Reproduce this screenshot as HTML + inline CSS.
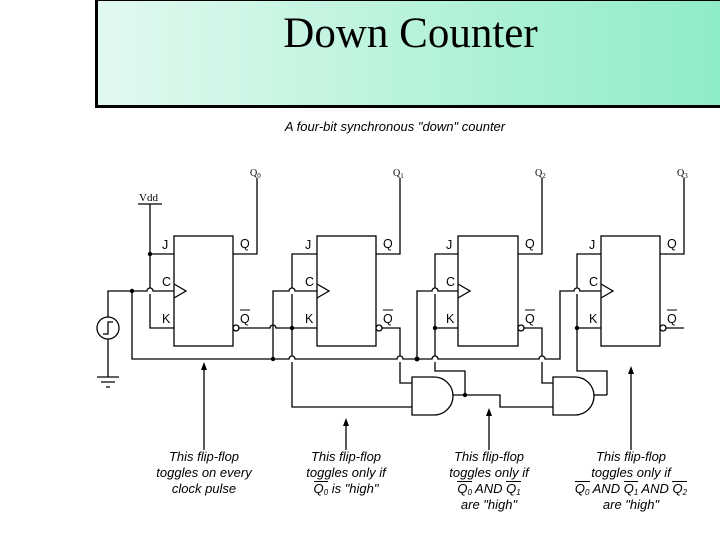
<!DOCTYPE html>
<html><head><meta charset="utf-8"><style>
html,body{margin:0;padding:0;background:#fff;}
body{width:720px;height:540px;position:relative;overflow:hidden;}
.hdr{position:absolute;left:95px;top:-2px;width:630px;height:110px;border:3px solid #000;background:linear-gradient(to right,#e2f9ef,#8eecc8);box-sizing:border-box;}
.hdr div{position:absolute;left:0;top:8px;width:625px;text-align:center;font:43px "Liberation Serif",serif;color:#000;}
svg{position:absolute;left:0;top:0;}
.lbl{position:absolute;top:449px;width:160px;margin-left:-80px;text-align:center;font:italic 13px/16px "Liberation Sans",sans-serif;color:#000;}
.ov{display:inline-block;border-top:1px solid #000;line-height:13px;}
.s{font-size:8px;position:relative;top:2px;}
</style></head><body>
<div class="hdr"><div>Down Counter</div></div>
<svg width="720" height="540" viewBox="0 0 720 540" font-family="Liberation Sans, sans-serif">
<text x="395" y="131" font-size="13" font-style="italic" text-anchor="middle">A four-bit synchronous "down" counter</text>
<g fill="none" stroke="#000" stroke-width="1.3">
<rect x="174" y="236" width="59" height="110"/>
<rect x="317" y="236" width="59" height="110"/>
<rect x="458" y="236" width="60" height="110"/>
<rect x="601" y="236" width="59" height="110"/>
<path d="M174 284 L186 291 L174 298 M317 284 L329 291 L317 298 M458 284 L470 291 L458 298 M601 284 L613 291 L601 298"/>
<path d="M138 204 H162 M150 204 V288 M150 294 V328 H174 M150 254 H174"/>
<path d="M233 254 H257 V178 M376 254 H400 V178 M518 254 H542 V178 M660 254 H684 V178"/>
<circle cx="108" cy="328" r="11"/>
<path d="M103 334 H108 V322 H113"/>
<path d="M108 317 V291 H147 A3 3 0 0 1 153 291 H174"/>
<path d="M108 339 V377 M97 377 H119 M101 382 H115 M106 387 H110"/>
<path d="M132 291 V359 H289 A3 3 0 0 1 295 359 H397 A3 3 0 0 1 403 359 H432 A3 3 0 0 1 438 359 H539 A3 3 0 0 1 545 359 H560 V291 H574 A3 3 0 0 1 580 291 H601"/>
<path d="M273 359 V291 H289 A3 3 0 0 1 295 291 H317"/>
<path d="M417 359 V291 H432 A3 3 0 0 1 438 291 H458"/>
<path d="M239 328 H270 A3 3 0 0 1 276 328 H317"/>
<path d="M317 254 H292 V288 M292 294 V356 M292 362 V407 H412"/>
<path d="M382 328 H400 V356 M400 362 V383 H412"/>
<path d="M458 254 H435 V288 M435 294 V356 M435 362 V371 H465 V395 M435 328 H458"/>
<path d="M412 377 H434 A19 19 0 0 1 434 415 H412 Z"/>
<path d="M453 395 H500 V407 H553"/>
<path d="M524 328 H542 V356 M542 362 V383 H553"/>
<path d="M601 254 H577 V288 M577 294 V371 H607 V395 M577 328 H601"/>
<path d="M553 377 H575 A19 19 0 0 1 575 415 H553 Z"/>
<path d="M594 395 H607"/>
<path d="M666 328 H684"/>
<circle cx="236" cy="328" r="3" fill="#fff"/>
<circle cx="379" cy="328" r="3" fill="#fff"/>
<circle cx="521" cy="328" r="3" fill="#fff"/>
<circle cx="663" cy="328" r="3" fill="#fff"/>
<path d="M204 450 V368 M346 450 V424 M489 450 V414 M631 450 V372"/>
</g>
<g fill="#000">
<circle cx="150" cy="254" r="2.2"/><circle cx="132" cy="291" r="2.2"/>
<circle cx="273" cy="359" r="2.2"/><circle cx="292" cy="328" r="2.2"/>
<circle cx="417" cy="359" r="2.5"/><circle cx="435" cy="328" r="2.2"/>
<circle cx="465" cy="395" r="2.2"/><circle cx="577" cy="328" r="2.2"/>
<path d="M204 362 L201 370 H207 Z M346 418 L343 426 H349 Z M489 408 L486 416 H492 Z M631 366 L628 374 H634 Z"/>
</g>
<g font-size="12.5">
<text x="162" y="249">J</text><text x="162" y="286">C</text><text x="162" y="323">K</text>
<text x="305" y="249">J</text><text x="305" y="286">C</text><text x="305" y="323">K</text>
<text x="446" y="249">J</text><text x="446" y="286">C</text><text x="446" y="323">K</text>
<text x="589" y="249">J</text><text x="589" y="286">C</text><text x="589" y="323">K</text>
<text x="240" y="248">Q</text><text x="383" y="248">Q</text><text x="525" y="248">Q</text><text x="667" y="248">Q</text>
<text x="240" y="323">Q</text><text x="383" y="323">Q</text><text x="525" y="323">Q</text><text x="667" y="323">Q</text>
</g>
<path d="M240 310 H250 M383 310 H393 M525 310 H535 M667 310 H677" stroke="#000" stroke-width="1"/>
<g font-size="10" font-family="Liberation Serif, serif">
<text x="250" y="176">Q<tspan font-size="7" dy="2">0</tspan></text>
<text x="393" y="176">Q<tspan font-size="7" dy="2">1</tspan></text>
<text x="535" y="176">Q<tspan font-size="7" dy="2">2</tspan></text>
<text x="677" y="176">Q<tspan font-size="7" dy="2">3</tspan></text>
<text x="139" y="201" font-size="11">Vdd</text>
</g>
</svg>
<div class="lbl" style="left:204px">This flip-flop<br>toggles on every<br>clock pulse</div>
<div class="lbl" style="left:346px">This flip-flop<br>toggles only if<br><span class="ov">Q<span class="s">0</span></span> is "high"</div>
<div class="lbl" style="left:489px">This flip-flop<br>toggles only if<br><span class="ov">Q<span class="s">0</span></span> AND <span class="ov">Q<span class="s">1</span></span><br>are "high"</div>
<div class="lbl" style="left:631px;width:180px;margin-left:-90px">This flip-flop<br>toggles only if<br><span class="ov">Q<span class="s">0</span></span> AND <span class="ov">Q<span class="s">1</span></span> AND <span class="ov">Q<span class="s">2</span></span><br>are "high"</div>
</body></html>
